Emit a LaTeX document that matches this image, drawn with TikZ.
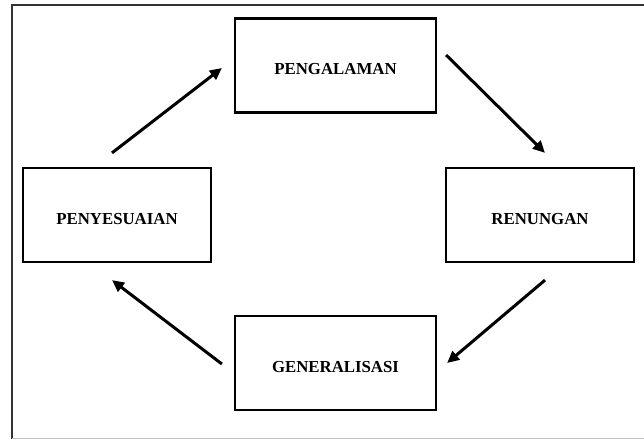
\documentclass[tikz,border=0pt]{standalone}
\usepackage{fontspec}
\setmainfont{Liberation Serif}
\usetikzlibrary{arrows.meta}

\begin{document}
\begin{tikzpicture}[x=1pt, y=-1pt, line width=2.2pt,
  main/.style = {draw, rectangle, text height=18pt, text depth=0pt,
    font=\fontsize{16.8}{19}\selectfont\bfseries},
  wide/.style = {main, minimum width=201pt, minimum height=94pt},
  side/.style = {main, minimum width=188pt, minimum height=94pt},
  arr/.style = {-{Triangle[length=12pt,width=11pt]}, line width=3pt}]
\useasboundingbox (0,0) rectangle (644,439);
% frame
\draw[line width=1.8pt, black!80] (644,5) -- (12,5) -- (12,439);
\draw[line width=1pt, black!25] (12,438) -- (644,438);
% boxes
\node[wide] (peng) at (335.5,65.5) {PENGALAMAN};
\node[side] (peny) at (117,215) {PENYESUAIAN};
\node[side] (ren) at (540,215) {RENUNGAN};
\node[wide] (gen) at (335.5,363) {GENERALISASI};
% cycle
\draw[arr] ([shift={(-5,-14)}]peny.north) -- ([shift={(-12,2.5)}]peng.west);
\draw[arr] ([shift={(9,-10.5)}]peng.east) -- ([shift={(5,-14)}]ren.north);
\draw[arr] ([shift={(5,17)}]ren.south) -- ([shift={(10,0)}]gen.east);
\draw[arr] ([shift={(-12,1)}]gen.west) -- ([shift={(-5,17)}]peny.south);
\end{tikzpicture}
\end{document}
